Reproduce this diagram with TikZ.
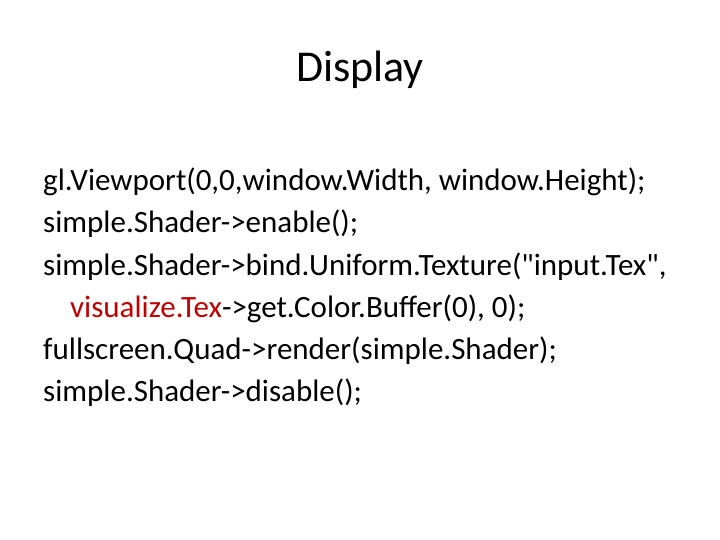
\documentclass[tikz,border=0pt]{standalone}
\usepackage{fontspec}
\setmainfont{Carlito}
\newfontfamily\plainq{Carlito}
\definecolor{redtxt}{RGB}{192,0,0}
\begin{document}
\begin{tikzpicture}[x=1pt,y=-1pt,
  body/.style={anchor=base west,inner sep=0pt,font=\fontsize{31}{37}\plainq}]
\useasboundingbox (0,0) rectangle (720,540);
\node[anchor=base,inner sep=0pt,font=\fontsize{44}{50}\selectfont] (title) at (360,82) {Display};
\node[body] (l1) at (43,191) {gl.Viewport(0,0,window.Width, window.Height);};
\node[body] (l2) at (43,233) {simple.Shader->enable();};
\node[body] (l3) at (43,275) {simple.Shader->bind.Uniform.Texture("input.Tex",};
\node[body] (l4) at (70,317) {\textcolor{redtxt}{visualize.Tex}->get.Color.Buffer(0), 0);};
\node[body] (l5) at (43,359) {fullscreen.Quad->render(simple.Shader);};
\node[body] (l6) at (43,401) {simple.Shader->disable();};
\end{tikzpicture}
\end{document}
